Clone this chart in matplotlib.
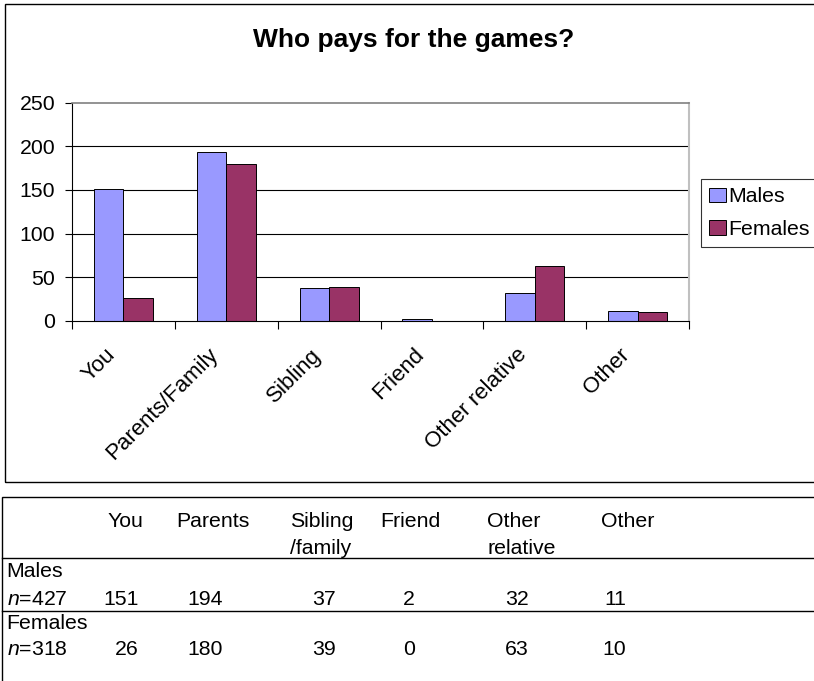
import matplotlib
matplotlib.use("Agg")
import matplotlib.pyplot as plt
import matplotlib.transforms as mtransforms
from matplotlib.patches import Rectangle, Patch
from matplotlib.lines import Line2D
import numpy as np

plt.rcParams['font.family'] = ['Liberation Sans', 'DejaVu Sans']
plt.rcParams['mathtext.fontset'] = 'custom'
plt.rcParams['mathtext.it'] = 'Liberation Sans:italic'
plt.rcParams['mathtext.rm'] = 'Liberation Sans'

# ---- data ----
title = "Who pays for the games?"
categories = ['You', 'Parents/Family', 'Sibling', 'Friend', 'Other relative', 'Other']
series_names = ['Males', 'Females']
males = [151, 194, 37, 2, 32, 11]
females = [26, 180, 39, 0, 63, 10]
males_n = 427
females_n = 318
y_ticks = [0, 50, 100, 150, 200, 250]
table_head_top = ['You', 'Parents', 'Sibling', 'Friend', 'Other', 'Other']
table_head_bottom = ['', '', '/family', '', 'relative', '']

# ---- styling ----
W, H = 814, 681
DPI = 100
MALE_COLOR = '#9999FF'
FEMALE_COLOR = '#993366'
FS = 15.3
FS_CAT = 16.0


def fx(px):
    return px / W


def fy(py):
    return 1 - py / H


fig = plt.figure(figsize=(W / DPI, H / DPI), dpi=DPI)
fig.patch.set_facecolor('white')

# outer frames
fig.add_artist(Rectangle((fx(5.3), fy(481.5)), fx(900) - fx(5.3), fy(4.3) - fy(481.5),
                         transform=fig.transFigure, fill=False, edgecolor='black', lw=1.0))
fig.add_artist(Rectangle((fx(1.5), fy(760)), fx(900) - fx(1.5), fy(497) - fy(760),
                         transform=fig.transFigure, fill=False, edgecolor='black', lw=1.0))

# title
fig.text(fx(414), fy(46.7), title, ha='center', va='baseline', fontsize=19, fontweight='bold')

# ---- chart ----
left, right, top, bottom = 72, 689, 102.7, 320.7
ax = fig.add_axes([fx(left), fy(bottom), fx(right) - fx(left), fy(top) - fy(bottom)])
x = np.arange(len(categories))
bw = 0.287
ax.bar(x - bw / 2, males, bw, color=MALE_COLOR, edgecolor='black', lw=0.7, zorder=3)
ax.bar(x + bw / 2, females, bw, color=FEMALE_COLOR, edgecolor='black', lw=0.7, zorder=3)

ax.set_xlim(-0.5, len(categories) - 0.5)
ax.set_ylim(y_ticks[0], y_ticks[-1])
ax.set_yticks(y_ticks)
ax.set_yticklabels([str(v) for v in y_ticks], fontsize=FS)
ax.tick_params(axis='y', direction='out', length=5, width=0.8, pad=7, color='black')

ax.set_xticks(x)
ax.set_xticklabels(categories, rotation=45, ha='right', va='top', fontsize=FS_CAT)
ax.tick_params(axis='x', which='major', length=0, pad=17)
ax.set_xticks(np.arange(-0.5, len(categories)), minor=True)
ax.tick_params(axis='x', which='minor', direction='out', length=5.5, width=0.8, color='black')
shift = mtransforms.ScaledTranslation(-4 / DPI, 0, fig.dpi_scale_trans)
for lbl in ax.get_xticklabels():
    lbl.set_transform(lbl.get_transform() + shift)

ax.set_axisbelow(True)
ax.yaxis.grid(True, color='black', lw=0.8)
for g, v in zip(ax.yaxis.get_gridlines(), y_ticks):
    if v in (y_ticks[0], y_ticks[-1]):
        g.set_visible(False)

ax.spines['left'].set_color('black')
ax.spines['left'].set_linewidth(0.8)
ax.spines['bottom'].set_color('black')
ax.spines['bottom'].set_linewidth(0.8)
ax.spines['top'].set_color('#808080')
ax.spines['top'].set_linewidth(1.2)
ax.spines['right'].set_color('#C0C0C0')
ax.spines['right'].set_linewidth(1.5)
for s in ax.spines.values():
    s.set_zorder(4)

handles = [Patch(facecolor=MALE_COLOR, edgecolor='black', lw=0.7),
           Patch(facecolor=FEMALE_COLOR, edgecolor='black', lw=0.7)]
leg = fig.legend(handles, series_names, loc='upper left',
                 bbox_to_anchor=(fx(700.7), fy(179.3)), bbox_transform=fig.transFigure,
                 borderaxespad=0, fontsize=FS, frameon=True, fancybox=False,
                 handlelength=0.82, handleheight=0.69, handletextpad=0.1,
                 borderpad=0.38, labelspacing=0.64)
leg.get_frame().set_edgecolor('black')
leg.get_frame().set_linewidth(0.8)

# ---- table ----
fig.add_artist(Line2D([fx(1.5), fx(900)], [fy(557.5), fy(557.5)], transform=fig.transFigure,
                      color='black', lw=1.0))
fig.add_artist(Line2D([fx(1.5), fx(900)], [fy(610.7), fy(610.7)], transform=fig.transFigure,
                      color='black', lw=1.0))

head_x = [107, 176.5, 289.7, 380, 487.3, 600.7]
val_right = [138.7, 222.5, 335.5, 414.5, 528.6, 626]
for hx, t1, t2 in zip(head_x, table_head_top, table_head_bottom):
    fig.text(fx(hx), fy(527.3), t1, ha='left', va='baseline', fontsize=FS)
    if t2:
        fig.text(fx(hx), fy(553.5), t2, ha='left', va='baseline', fontsize=FS)

fig.text(fx(6.5), fy(577.3), series_names[0], ha='left', va='baseline', fontsize=FS)
fig.text(fx(7), fy(605), r'$\mathit{n}$=%d' % males_n, ha='left', va='baseline', fontsize=FS)
fig.text(fx(6.5), fy(629.3), series_names[1], ha='left', va='baseline', fontsize=FS)
fig.text(fx(7), fy(655), r'$\mathit{n}$=%d' % females_n, ha='left', va='baseline', fontsize=FS)
for vx, m, f in zip(val_right, males, females):
    fig.text(fx(vx), fy(605), str(m), ha='right', va='baseline', fontsize=FS)
    fig.text(fx(vx), fy(655), str(f), ha='right', va='baseline', fontsize=FS)

fig.savefig('out.png', dpi=DPI, facecolor='white')
